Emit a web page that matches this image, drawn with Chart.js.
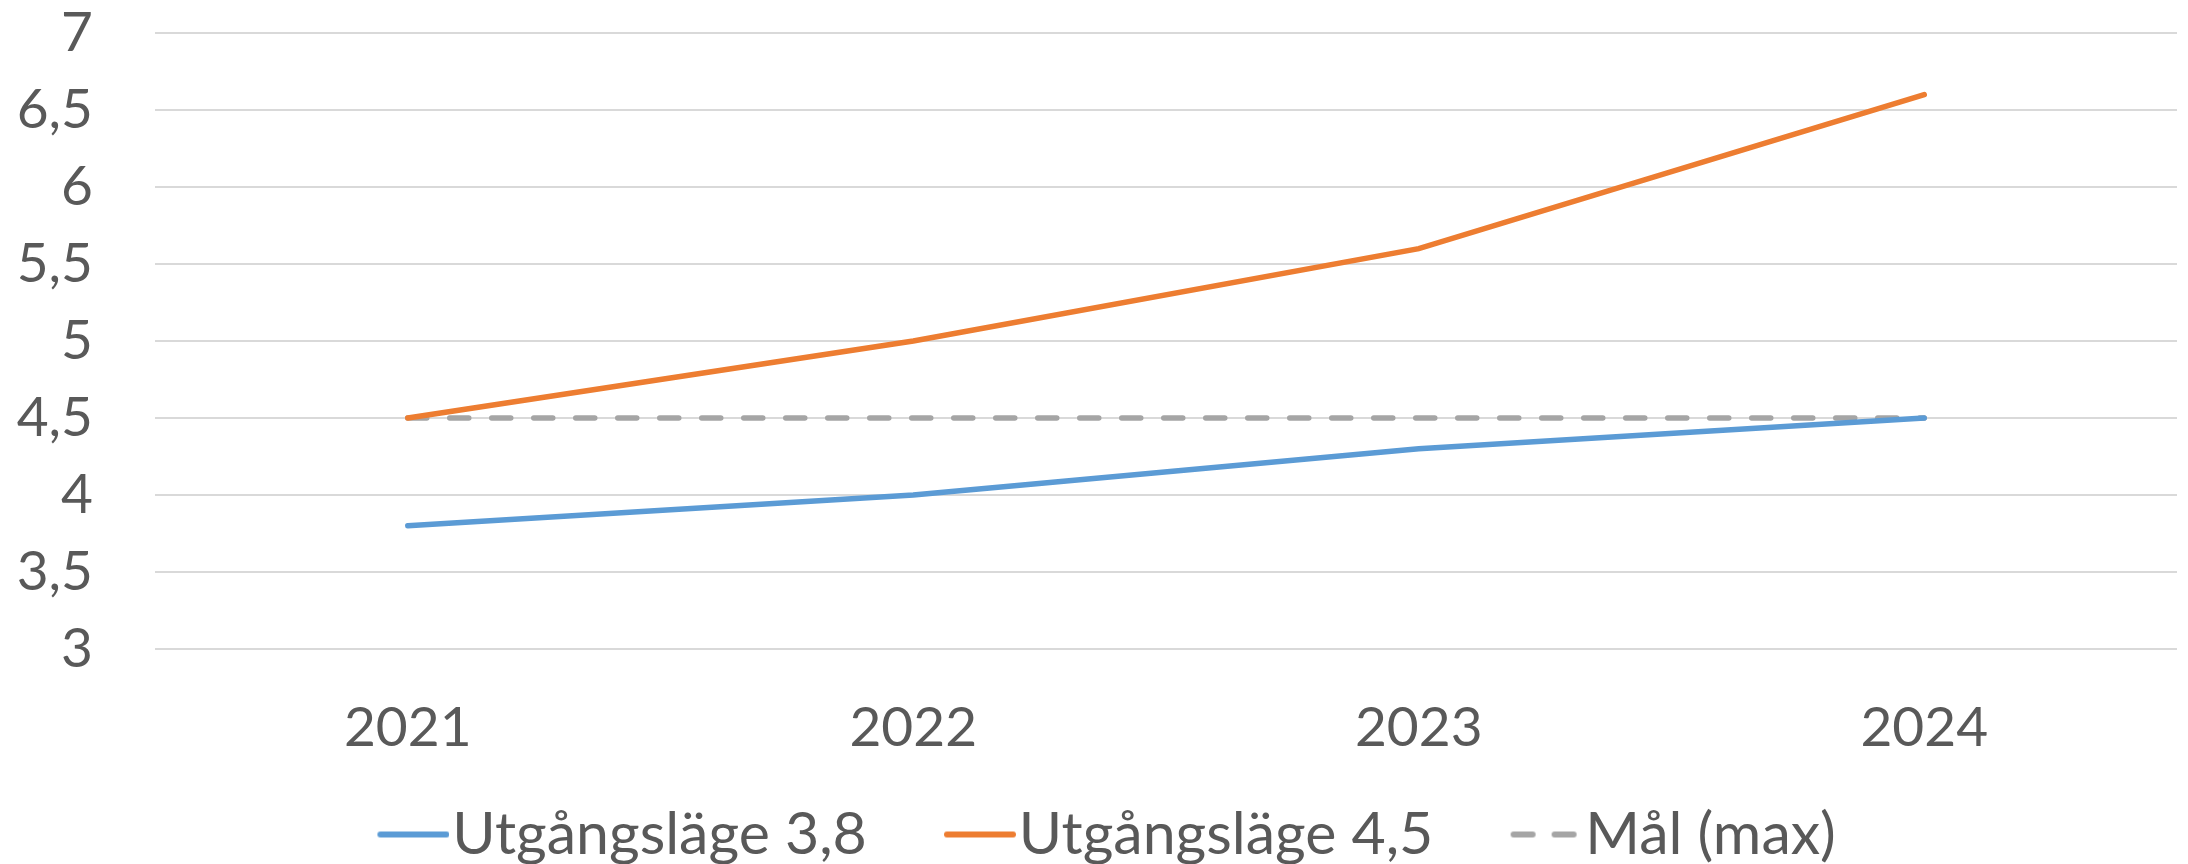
<!DOCTYPE html>
<html>
<head>
<meta charset="utf-8">
<script src="https://cdn.jsdelivr.net/npm/chart.js@4.4.1/dist/chart.umd.min.js"></script>
<style>
  html, body { margin: 0; padding: 0; background: #fff; }
  #wrap { width: 2188px; height: 864px; }
</style>
</head>
<body>
<div id="wrap"><canvas id="lineChart"></canvas></div>
<script>
// Data
const years = ["2021", "2022", "2023", "2024"];
const start38 = [3.8, 4.0, 4.3, 4.5];
const start45 = [4.5, 5.0, 5.6, 6.6];
const goalMax = [4.5, 4.5, 4.5, 4.5];
const yTicks = [3, 3.5, 4, 4.5, 5, 5.5, 6, 6.5, 7];

const FONT = "Lato";
const TEXT = "#595959";
const BLUE = "#5B9BD5";
const ORANGE = "#ED7D31";
const GRAY = "#A5A5A5";
const LINE_W = 5.5;
const DASH = [19, 23];

// legend spacing
const LEG_FONT = 59;
const LEG_PAD = 41;
const ICON_LEN = 72;
const ICON_GAP = 3;
const ITEM_GAP = 77;
const LEG_BOX = ITEM_GAP + ICON_LEN + ICON_GAP - LEG_PAD - LEG_FONT / 2;

Chart.defaults.font.family = FONT;
Chart.defaults.color = TEXT;

// line icon for the legend (Chart.js ignores dashes with point styles),
// drawn at the right side of the image so it sits close to the text
function legendIcon(color, dash) {
  const w = Math.round(LEG_BOX + LEG_FONT - 2 * ICON_GAP);
  const c = document.createElement("canvas");
  c.width = w;
  c.height = 10;
  const ctx = c.getContext("2d");
  ctx.strokeStyle = color;
  ctx.lineWidth = 6;
  ctx.lineCap = "round";
  ctx.setLineDash(dash || []);
  ctx.beginPath();
  ctx.moveTo(w - ICON_LEN + 3, 5);
  ctx.lineTo(w - 3, 5);
  ctx.stroke();
  return c;
}

new Chart(document.getElementById("lineChart").getContext("2d"), {
  type: "line",
  data: {
    labels: years,
    datasets: [
      {
        label: "Utgångsläge 3,8",
        data: start38,
        borderColor: BLUE,
        backgroundColor: BLUE,
        borderWidth: LINE_W,
        borderCapStyle: "round",
        pointRadius: 0,
        pointStyle: legendIcon(BLUE),
        tension: 0,
      },
      {
        label: "Utgångsläge 4,5",
        data: start45,
        borderColor: ORANGE,
        backgroundColor: ORANGE,
        borderWidth: LINE_W,
        borderCapStyle: "round",
        pointRadius: 0,
        pointStyle: legendIcon(ORANGE),
        tension: 0,
      },
      {
        label: "Mål (max)",
        data: goalMax,
        borderColor: GRAY,
        backgroundColor: GRAY,
        borderWidth: LINE_W,
        borderDash: DASH,
        borderCapStyle: "round",
        pointRadius: 0,
        pointStyle: legendIcon(GRAY, [19, 22]),
        tension: 0,
      },
    ],
  },
  options: {
    responsive: true,
    maintainAspectRatio: false,
    animation: false,
    layout: {
      padding: { top: 33, right: 11, bottom: -10, left: 0 },
    },
    plugins: {
      tooltip: { enabled: false },
      legend: {
        position: "bottom",
        labels: {
          font: { size: LEG_FONT },
          color: TEXT,
          usePointStyle: true,
          pointStyleWidth: LEG_BOX,
          padding: LEG_PAD,
        },
      },
    },
    scales: {
      x: {
        offset: true,
        grid: { display: false },
        border: { display: false },
        afterFit: function (axis) {
          axis.height -= 35;
        },
        ticks: {
          font: { size: 55 },
          color: TEXT,
          padding: 38,
        },
      },
      y: {
        min: 3,
        max: 7,
        afterBuildTicks: function (axis) {
          axis.ticks = yTicks.map((v) => ({ value: v }));
        },
        afterFit: function (axis) {
          axis.width = 155;
          axis.paddingTop = 0;
          axis.paddingBottom = 0;
        },
        grid: { color: "#D9D9D9", lineWidth: 2, drawTicks: false },
        border: { display: false },
        ticks: {
          autoSkip: false,
          font: { size: 55 },
          color: TEXT,
          padding: 62,
          callback: function (value) {
            return String(value).replace(".", ",");
          },
        },
      },
    },
  },
});
</script>
</body>
</html>
